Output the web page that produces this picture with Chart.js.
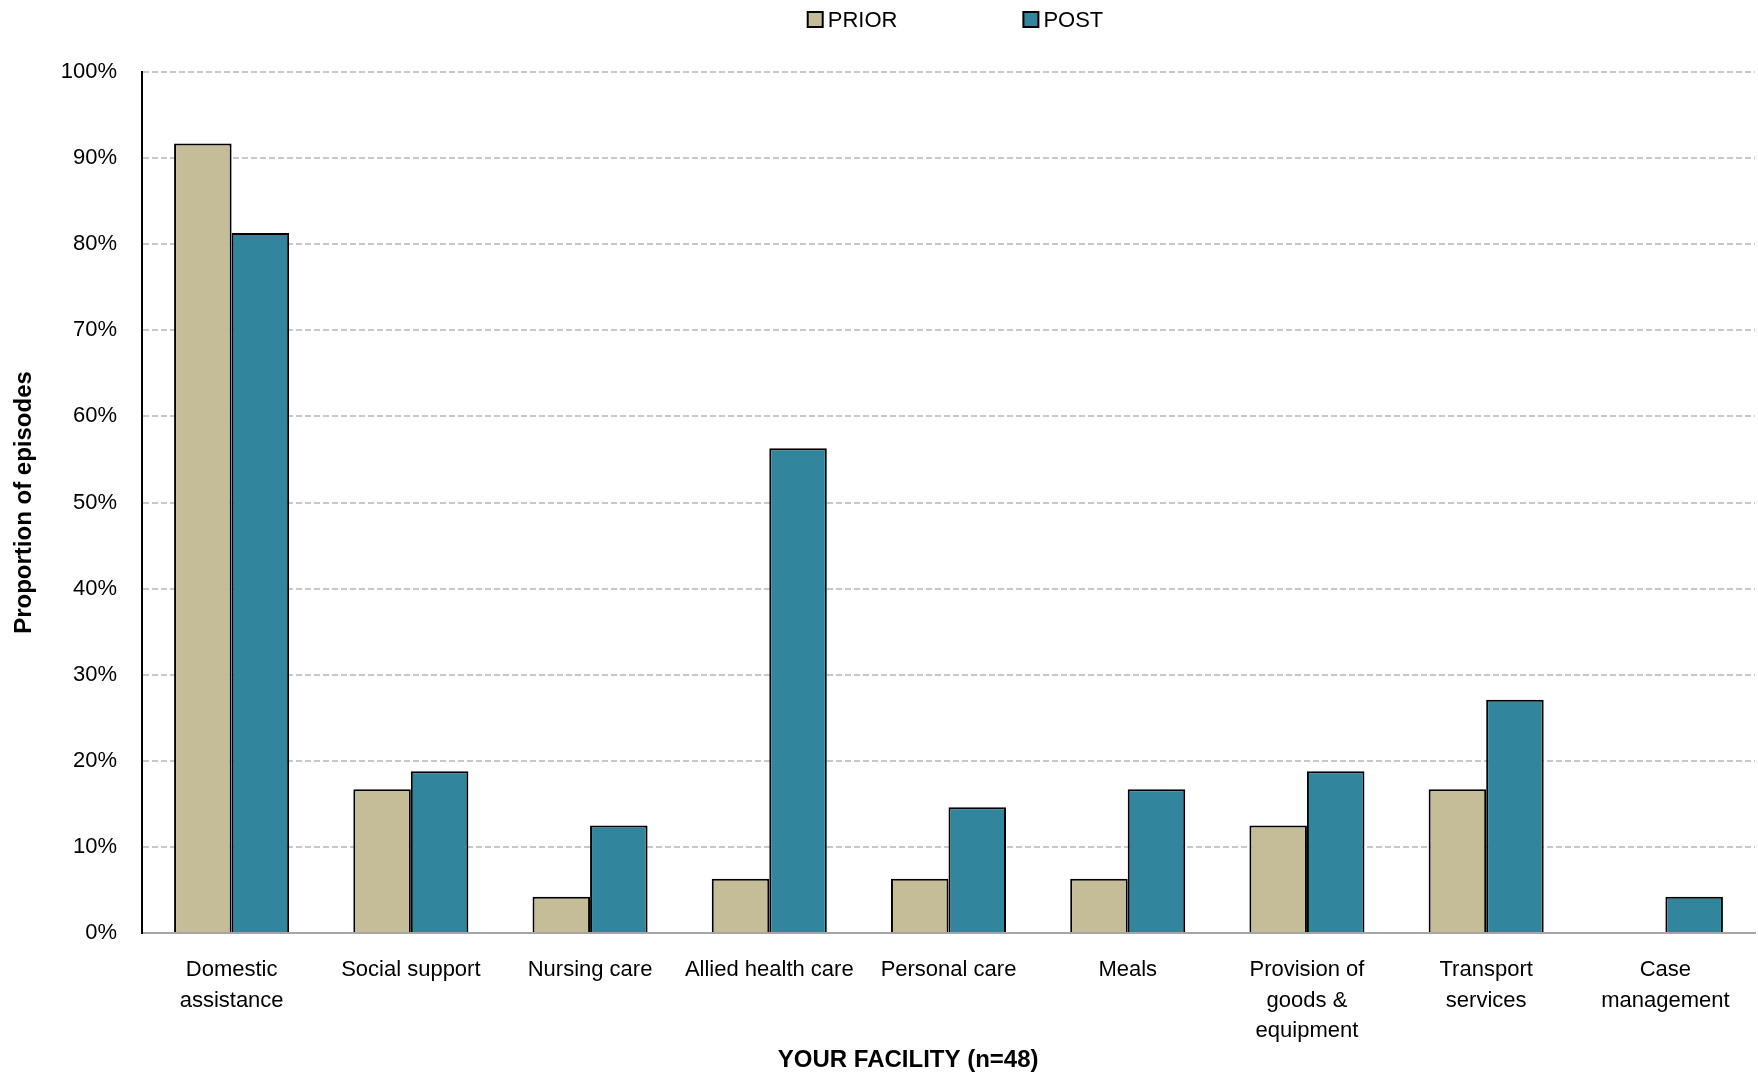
<!DOCTYPE html>
<html>
<head>
<meta charset="utf-8">
<title>Services prior and post</title>
<script src="https://cdn.jsdelivr.net/npm/chart.js@4.4.1/dist/chart.umd.min.js"></script>
<style>
  html, body { margin: 0; padding: 0; background: #fff; }
  #wrap { width: 1758px; height: 1076px; position: relative; }
</style>
</head>
<body>
<div id="wrap"><canvas id="servicesChart"></canvas></div>
<script>
const categories = [
  ["Domestic", "assistance"],
  "Social support",
  "Nursing care",
  "Allied health care",
  "Personal care",
  "Meals",
  ["Provision of", "goods &", "equipment"],
  ["Transport", "services"],
  ["Case", "management"],
];
const priorValues = [91.7, 16.7, 4.2, 6.3, 6.3, 6.3, 12.5, 16.7, 0];
const postValues = [81.3, 18.8, 12.5, 56.3, 14.6, 16.7, 18.8, 27.1, 4.2];
const yTicks = [0, 10, 20, 30, 40, 50, 60, 70, 80, 90, 100];

const fontFamily = '"Liberation Sans", Arial, sans-serif';

// legend drawn above the plot, roughly centred on the chart area
const topLegend = {
  id: "topLegend",
  afterDraw(chart) {
    const ctx = chart.ctx;
    const area = chart.chartArea;
    const box = 15;
    const gap = 5;
    const spacing = 126;
    ctx.save();
    ctx.font = "22px " + fontFamily;
    ctx.textBaseline = "middle";
    const items = chart.data.datasets.map((ds) => ({
      text: ds.label,
      color: ds.backgroundColor,
      w: box + gap + ctx.measureText(ds.label).width,
    }));
    const total = items.reduce((s, it) => s + it.w, 0) + spacing * (items.length - 1);
    let x = (area.left + area.right) / 2 - total / 2 + 7;
    const y = 19.5;
    items.forEach((it) => {
      ctx.fillStyle = it.color;
      ctx.fillRect(x, y - box / 2, box, box);
      ctx.lineWidth = 2;
      ctx.strokeStyle = "#000";
      ctx.strokeRect(x, y - box / 2, box, box);
      ctx.fillStyle = "#000";
      ctx.fillText(it.text, x + box + gap, y + 1);
      x += it.w + spacing;
    });
    ctx.restore();
  },
};

// x axis title, sits a little left of the plot centre like the original
const bottomTitle = {
  id: "bottomTitle",
  afterDraw(chart) {
    const ctx = chart.ctx;
    const area = chart.chartArea;
    ctx.save();
    ctx.font = "bold 24px " + fontFamily;
    ctx.textAlign = "center";
    ctx.textBaseline = "middle";
    ctx.fillStyle = "#000";
    ctx.fillText("YOUR FACILITY (n=48)", area.left + (area.right - area.left) * 0.475, 1060);
    ctx.restore();
  },
};

const ctx = document.getElementById("servicesChart").getContext("2d");
new Chart(ctx, {
  type: "bar",
  data: {
    labels: categories,
    datasets: [
      {
        label: "PRIOR",
        data: priorValues,
        backgroundColor: "#C4BD97",
        borderColor: "#000",
        borderWidth: 2,
      },
      {
        label: "POST",
        data: postValues,
        backgroundColor: "#31859C",
        borderColor: "#000",
        borderWidth: 2,
      },
    ],
  },
  options: {
    responsive: true,
    maintainAspectRatio: false,
    animation: false,
    devicePixelRatio: 1,
    layout: { padding: { top: 72, right: 3, left: 0, bottom: 0 } },
    datasets: {
      bar: { categoryPercentage: 0.642, barPercentage: 1.0 },
    },
    plugins: {
      legend: { display: false },
      tooltip: { enabled: false },
    },
    scales: {
      x: {
        grid: { display: false, drawTicks: false },
        border: { color: "#a6a6a6", width: 2 },
        ticks: {
          color: "#000",
          padding: 22,
          maxRotation: 0,
          autoSkip: false,
          font: { family: fontFamily, size: 22, lineHeight: 1.38 },
        },
        afterFit(scale) {
          scale.height = 143;
        },
      },
      y: {
        min: 0,
        max: 100,
        afterBuildTicks(scale) {
          scale.ticks = yTicks.map((v) => ({ value: v }));
        },
        grid: {
          color: "#c8c8c8",
          lineWidth: 2,
          drawTicks: false,
        },
        border: { color: "#000", width: 2, dash: [6, 3] },
        ticks: {
          color: "#000",
          padding: 25,
          font: { family: fontFamily, size: 22 },
          callback: (v) => v + "%",
        },
        title: {
          display: true,
          text: "Proportion of episodes",
          color: "#000",
          padding: { top: 10, bottom: 0 },
          font: { family: fontFamily, size: 24, weight: "bold", lineHeight: 1.2 },
        },
        afterFit(scale) {
          scale.width = 142;
        },
      },
    },
  },
  plugins: [topLegend, bottomTitle],
});
</script>
</body>
</html>
